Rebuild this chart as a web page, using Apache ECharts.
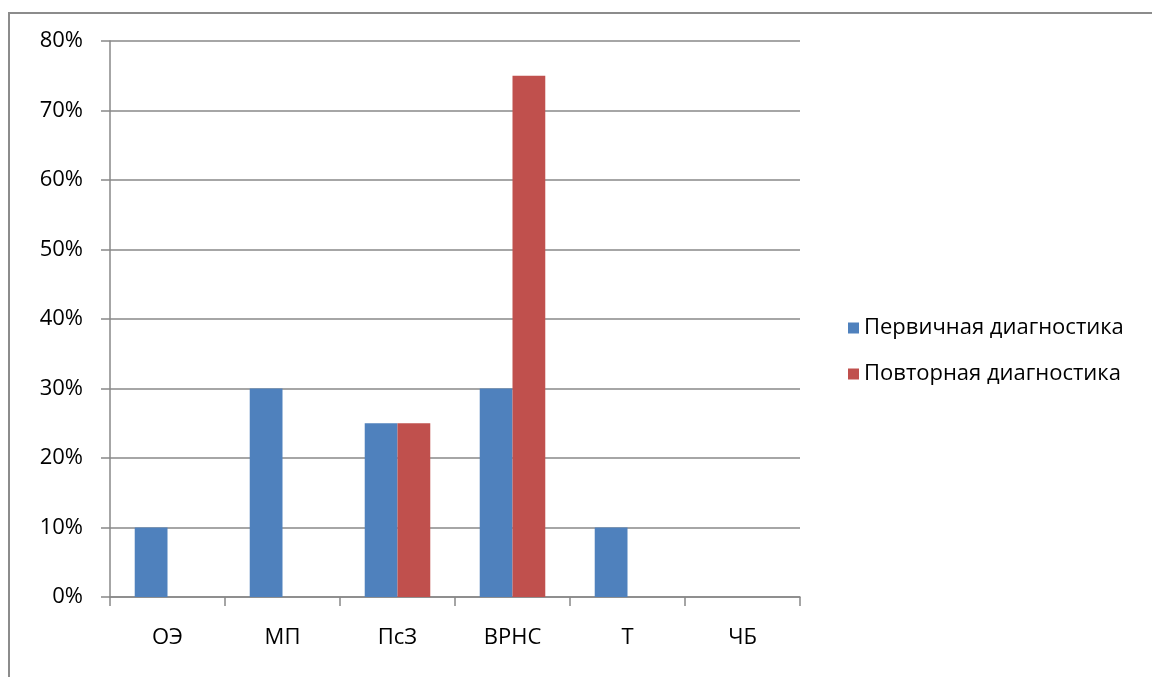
<!DOCTYPE html>
<html>
<head>
<meta charset="utf-8">
<script src="https://cdn.jsdelivr.net/npm/echarts@6/dist/echarts.min.js"></script>
<style>
  html, body { margin: 0; padding: 0; background: #fff; }
  #chart { width: 1152px; height: 677px; }
</style>
</head>
<body>
<div id="chart"></div>
<script>
// Diagnostic categories
const categories = ['ОЭ', 'МП', 'ПсЗ', 'ВРНС', 'Т', 'ЧБ'];
// Share of children per category, percent
const primaryValues = [10, 30, 25, 30, 10, 0];
const repeatValues = [0, 0, 25, 75, 0, 0];
const seriesNames = ['Первичная диагностика', 'Повторная диагностика'];
// Y axis range and step, percent
const yMax = 80;
const yStep = 10;

const font = '"Open Sans", "Noto Sans", sans-serif';
const chart = echarts.init(document.getElementById('chart'), null, { renderer: 'canvas' });

chart.setOption({
  animation: false,
  textStyle: { fontFamily: font },
  graphic: [
    {
      type: 'line',
      shape: { x1: 9, y1: 13, x2: 1152, y2: 13 },
      style: { stroke: '#8c8c8c', lineWidth: 2 },
      silent: true
    },
    {
      type: 'line',
      shape: { x1: 9, y1: 12, x2: 9, y2: 677 },
      style: { stroke: '#8c8c8c', lineWidth: 2 },
      silent: true
    }
  ],
  legend: {
    orient: 'vertical',
    left: 843,
    top: 312,
    itemWidth: 11,
    itemHeight: 11,
    itemGap: 24,
    icon: 'rect',
    textStyle: { fontFamily: font, fontSize: 22, color: '#000' },
    data: seriesNames
  },
  grid: { left: 110, top: 41, right: 352, bottom: 80, containLabel: false },
  xAxis: {
    type: 'category',
    data: categories,
    axisLine: { lineStyle: { color: '#888', width: 1.5 } },
    axisTick: { show: true, length: 9, lineStyle: { color: '#888', width: 1.5 } },
    axisLabel: { margin: 30, fontSize: 22, color: '#000', fontFamily: font }
  },
  yAxis: {
    type: 'value',
    min: 0,
    max: yMax,
    interval: yStep,
    axisLine: { show: true, lineStyle: { color: '#888', width: 1.5 } },
    axisTick: { show: true, length: 9, lineStyle: { color: '#888', width: 1.5 } },
    splitLine: { lineStyle: { color: '#888', width: 1.5 } },
    axisLabel: { margin: 27, fontSize: 22, color: '#000', fontFamily: font, formatter: '{value}%' }
  },
  series: [
    {
      name: seriesNames[0],
      type: 'bar',
      data: primaryValues,
      barGap: '0%',
      barCategoryGap: '43%',
      itemStyle: { color: '#4F81BD' }
    },
    {
      name: seriesNames[1],
      type: 'bar',
      data: repeatValues,
      barGap: '0%',
      barCategoryGap: '43%',
      itemStyle: { color: '#C0504D' }
    }
  ]
});
</script>
</body>
</html>
